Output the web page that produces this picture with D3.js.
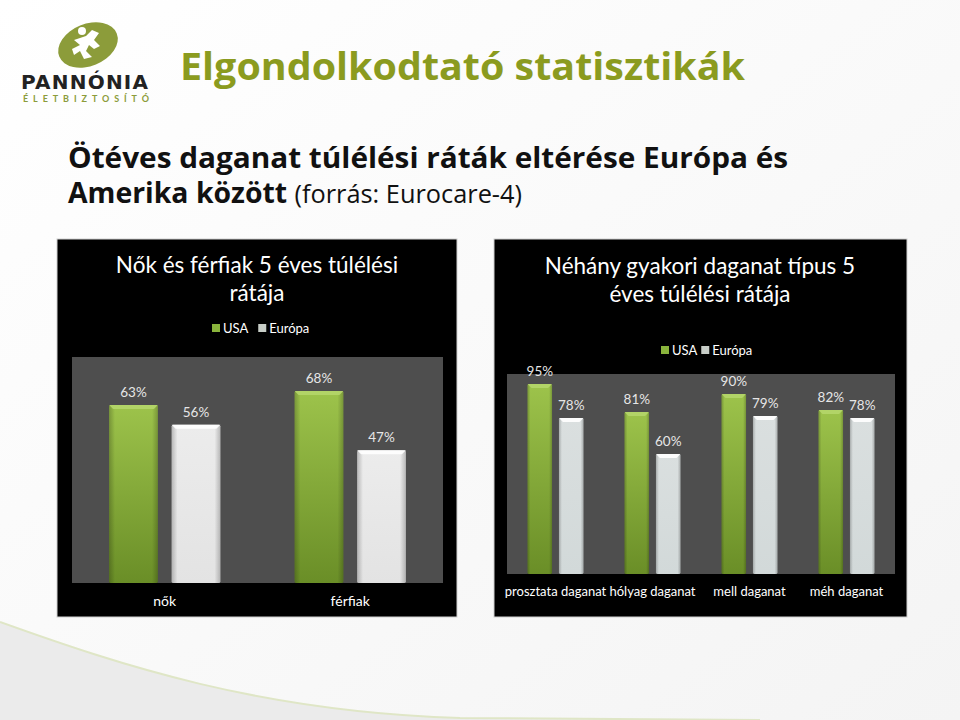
<!DOCTYPE html>
<html>
<head>
<meta charset="utf-8">
<script src="https://cdn.jsdelivr.net/npm/d3@7"></script>
<style>
  html, body { margin: 0; padding: 0; background: #fff; }
  svg { display: block; }
</style>
</head>
<body>
<div id="slide"></div>
<script>
// data
var series = ["USA", "Európa"];

var cats1 = ["nők", "férfiak"];
var usa1 = [63, 68];
var eur1 = [56, 47];

var cats2 = ["prosztata daganat", "hólyag daganat", "mell daganat", "méh daganat"];
var usa2 = [95, 81, 90, 82];
var eur2 = [78, 60, 79, 78];

var W = 960, H = 720;
var olive = "#8b9b1f";
var font = "Lato, 'Open Sans', sans-serif";
var headFont = "'Open Sans', Lato, sans-serif";

var svg = d3.select("#slide").append("svg")
    .attr("width", W)
    .attr("height", H);

var defs = svg.append("defs");

// page background + swoosh
var bg = defs.append("linearGradient").attr("id", "bg").attr("x1", 0).attr("y1", 0).attr("x2", 1).attr("y2", 1);
bg.append("stop").attr("offset", "0%").attr("stop-color", "#ffffff");
bg.append("stop").attr("offset", "100%").attr("stop-color", "#f4f4f4");
svg.append("rect").attr("width", W).attr("height", H).attr("fill", "url(#bg)");

svg.append("path")
    .attr("d", "M0,622 C120,665 260,712 460,718 L760,720 L0,720 Z")
    .attr("fill", "#ebebeb");
svg.append("path")
    .attr("d", "M0,622 C120,665 260,712 460,718 L760,720")
    .attr("fill", "none")
    .attr("stroke", "#dfe6c6")
    .attr("stroke-width", 2);

// gradients for bars
function vgrad(id, top, bottom) {
    var g = defs.append("linearGradient").attr("id", id).attr("x1", 0).attr("y1", 0).attr("x2", 0).attr("y2", 1);
    g.append("stop").attr("offset", "0%").attr("stop-color", top);
    g.append("stop").attr("offset", "100%").attr("stop-color", bottom);
}
vgrad("gUSA", "#9dc34b", "#6a8e27");
vgrad("gEU1", "#ececec", "#e3e3e3");
vgrad("gEU2", "#dadfdf", "#d2d9d9");

var edge = defs.append("linearGradient").attr("id", "edge").attr("x1", 0).attr("y1", 0).attr("x2", 1).attr("y2", 0);
edge.append("stop").attr("offset", "0%").attr("stop-color", "#000").attr("stop-opacity", 0.22);
edge.append("stop").attr("offset", "12%").attr("stop-color", "#000").attr("stop-opacity", 0);
edge.append("stop").attr("offset", "88%").attr("stop-color", "#000").attr("stop-opacity", 0);
edge.append("stop").attr("offset", "100%").attr("stop-color", "#000").attr("stop-opacity", 0.22);

// ---------- header ----------
var logo = svg.append("g");
logo.append("ellipse")
    .attr("cx", 88).attr("cy", 45).attr("rx", 31).attr("ry", 21)
    .attr("transform", "rotate(-22,88,45)")
    .attr("fill", "#8c9c3a");
logo.append("path")
    .attr("d", "M74,40 L86,36 L92,30 L99,33 L94,40 L100,46 L94,49 L89,45 L86,51 L92,57 L84,59 L80,51 L74,55 L72,49 L80,45 Z")
    .attr("fill", "#fff");
logo.append("circle").attr("cx", 82).attr("cy", 31).attr("r", 4).attr("fill", "#fff");
logo.append("text")
    .attr("x", 85).attr("y", 89)
    .attr("text-anchor", "middle")
    .attr("font-family", "'DejaVu Sans', sans-serif")
    .attr("font-weight", "bold")
    .attr("font-size", 20)
    .attr("letter-spacing", 1)
    .attr("fill", "#222")
    .attr("textLength", 128)
    .text("PANNÓNIA");
logo.append("text")
    .attr("x", 86).attr("y", 102)
    .attr("text-anchor", "middle")
    .attr("font-family", font)
    .attr("font-weight", "bold")
    .attr("font-size", 9)
    .attr("fill", "#8c9c3a")
    .attr("textLength", 126)
    .text("ÉLETBIZTOSÍTÓ");

svg.append("text")
    .attr("x", 180).attr("y", 80)
    .attr("font-family", headFont)
    .attr("font-weight", "bold")
    .attr("font-size", 38)
    .attr("fill", olive)
    .attr("textLength", 565)
    .attr("lengthAdjust", "spacingAndGlyphs")
    .text("Elgondolkodtató statisztikák");

svg.append("text")
    .attr("x", 68).attr("y", 168)
    .attr("font-family", headFont)
    .attr("font-weight", "bold")
    .attr("font-size", 28)
    .attr("fill", "#111")
    .attr("textLength", 720)
    .attr("lengthAdjust", "spacingAndGlyphs")
    .text("Ötéves daganat túlélési ráták eltérése Európa és");
var l2 = svg.append("text")
    .attr("x", 68).attr("y", 203)
    .attr("font-family", headFont)
    .attr("font-size", 28)
    .attr("fill", "#111")
    .attr("textLength", 454)
    .attr("lengthAdjust", "spacingAndGlyphs");
l2.append("tspan").attr("font-weight", "bold").text("Amerika között ");
l2.append("tspan").attr("font-size", 25).text("(forrás: Eurocare-4)");

// ---------- chart builder ----------
function chart(opt) {
    var g = svg.append("g");
    g.append("rect")
        .attr("x", opt.box[0]).attr("y", opt.box[1])
        .attr("width", opt.box[2]).attr("height", opt.box[3])
        .attr("fill", "#000")
        .attr("stroke", "#d0d0d0").attr("stroke-width", 1);

    g.append("rect")
        .attr("x", opt.plot[0]).attr("y", opt.plot[1])
        .attr("width", opt.plot[2] - opt.plot[0]).attr("height", opt.plot[3] - opt.plot[1])
        .attr("fill", "#4e4e4e");

    opt.title.forEach(function (t, i) {
        g.append("text")
            .attr("x", opt.titleX).attr("y", opt.titleY + i * 28)
            .attr("text-anchor", "middle")
            .attr("font-family", font)
            .attr("font-size", 22.5)
            .attr("fill", "#fff")
            .text(t);
    });

    var x0 = d3.scaleBand().domain(opt.cats).range([opt.plot[0], opt.plot[2]])
        .paddingInner(opt.pi).paddingOuter(opt.po);
    var x1 = d3.scaleBand().domain(series).range([0, x0.bandwidth()]).paddingInner(0.22);
    var y = d3.scaleLinear().domain([0, opt.max]).range([opt.plot[3], opt.plot[1]]);

    // legend
    var lg = g.append("g").attr("transform", "translate(" + opt.legend[0] + "," + opt.legend[1] + ")");
    var lx = 0;
    series.forEach(function (s, i) {
        lg.append("rect").attr("x", lx).attr("y", -9).attr("width", 8).attr("height", 8)
            .attr("fill", i === 0 ? "#8ab43c" : "#c8cec8");
        var t = lg.append("text").attr("x", lx + 11).attr("y", 0)
            .attr("font-family", font).attr("font-size", 13).attr("fill", "#fff").text(s);
        lx += 11 + t.node().getComputedTextLength() + opt.legendGap;
    });

    var rows = opt.cats.map(function (c, i) {
        return { cat: c, vals: [{ s: "USA", v: opt.usa[i] }, { s: "Európa", v: opt.eur[i] }] };
    });

    var grp = g.selectAll("g.cat").data(rows).enter().append("g")
        .attr("class", "cat")
        .attr("transform", function (d) { return "translate(" + x0(d.cat) + ",0)"; });

    var bar = grp.selectAll("g.bar").data(function (d) { return d.vals; }).enter().append("g").attr("class", "bar");

    bar.append("rect")
        .attr("x", function (d) { return x1(d.s); })
        .attr("y", function (d) { return y(d.v); })
        .attr("width", x1.bandwidth())
        .attr("height", function (d) { return y(0) - y(d.v); })
        .attr("rx", 1.5)
        .attr("fill", function (d) { return d.s === "USA" ? "url(#gUSA)" : opt.eurFill; });
    bar.append("rect")
        .attr("x", function (d) { return x1(d.s); })
        .attr("y", function (d) { return y(d.v); })
        .attr("width", x1.bandwidth())
        .attr("height", function (d) { return y(0) - y(d.v); })
        .attr("fill", "url(#edge)");
    // top bevel
    bar.append("path")
        .attr("d", function (d) {
            var a = x1(d.s), b = a + x1.bandwidth(), t = y(d.v);
            return "M" + a + "," + t + " L" + b + "," + t + " L" + (b - 4) + "," + (t + 4) + " L" + (a + 4) + "," + (t + 4) + " Z";
        })
        .attr("fill", function (d) { return d.s === "USA" ? "#b5d66a" : "#ffffff"; })
        .attr("opacity", 0.9);

    bar.append("text")
        .attr("x", function (d) { return x1(d.s) + x1.bandwidth() / 2; })
        .attr("y", function (d) { return y(d.v) - 8; })
        .attr("text-anchor", "middle")
        .attr("font-family", font)
        .attr("font-size", 13.5)
        .attr("fill", "#e6e6e6")
        .text(function (d) { return d.v + "%"; });

    grp.append("text")
        .attr("x", x0.bandwidth() / 2)
        .attr("y", opt.catY)
        .attr("text-anchor", "middle")
        .attr("font-family", font)
        .attr("font-size", opt.catSize)
        .attr("fill", "#fff")
        .text(function (d) { return d.cat; });
}

chart({
    box: [57, 239, 400, 378],
    plot: [72, 357, 443, 583],
    title: ["Nők és férfiak 5 éves túlélési", "rátája"],
    titleX: 257, titleY: 273,
    legend: [212, 333], legendGap: 10,
    cats: cats1, usa: usa1, eur: eur1, max: 80,
    pi: 0.4, po: 0.2,
    eurFill: "url(#gEU1)",
    catY: 606, catSize: 14
});

chart({
    box: [494, 239, 413, 378],
    plot: [507, 374, 895, 574],
    title: ["Néhány gyakori daganat típus 5", "éves túlélési rátája"],
    titleX: 700, titleY: 274,
    legend: [661, 355], legendGap: 4,
    cats: cats2, usa: usa2, eur: eur2, max: 100,
    pi: 0.423, po: 0.2115,
    eurFill: "url(#gEU2)",
    catY: 596, catSize: 13
});
</script>
</body>
</html>
